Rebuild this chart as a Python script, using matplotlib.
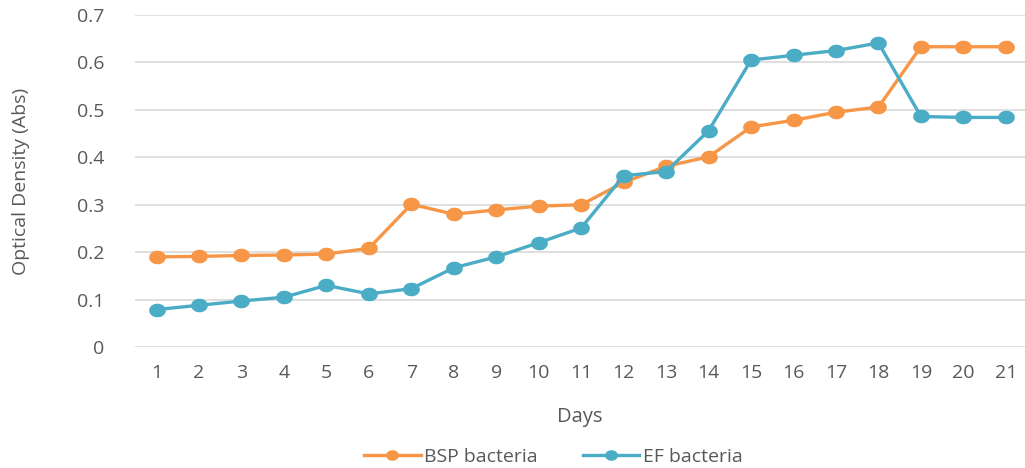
import numpy as np
import matplotlib
matplotlib.use('Agg')
import matplotlib.pyplot as plt
from matplotlib.path import Path

plt.rcParams['font.family'] = ['Open Sans', 'DejaVu Sans']

days = list(range(1, 22))
bsp = [0.190, 0.191, 0.193, 0.194, 0.196, 0.208, 0.301, 0.280, 0.289, 0.297,
       0.300, 0.347, 0.381, 0.401, 0.464, 0.478, 0.495, 0.506, 0.633, 0.633, 0.633]
ef = [0.079, 0.088, 0.097, 0.105, 0.130, 0.112, 0.123, 0.167, 0.190, 0.220,
      0.251, 0.361, 0.370, 0.456, 0.605, 0.615, 0.625, 0.641, 0.486, 0.484, 0.484]
y_ticks = [0, 0.1, 0.2, 0.3, 0.4, 0.5, 0.6, 0.7]

orange = '#F79646'
blue = '#4BACC6'
text_grey = '#595959'

# slightly wide oval marker
t = np.linspace(0, 2 * np.pi, 40)
oval = Path(np.column_stack([np.cos(t), 0.8 * np.sin(t)]))

fig = plt.figure(figsize=(10.25, 4.68), dpi=100)
ax = fig.add_axes([0.132, 0.2585, 0.868, 0.7095])

ax.plot(days, bsp, color=orange, lw=2.4, marker=oval, markersize=11,
        label='BSP bacteria', zorder=3)
ax.plot(days, ef, color=blue, lw=2.4, marker=oval, markersize=11,
        label='EF bacteria', zorder=3)

ax.set_xlim(0.5, 21.45)
ax.set_ylim(0, 0.7)
ax.set_xticks(days)
ax.set_yticks(y_ticks)
ax.set_yticklabels(['0' if v == 0 else f'{v:.1f}' for v in y_ticks])
ax.yaxis.grid(True, color='#D9D9D9', lw=1.2)
ax.set_axisbelow(True)
for s in ax.spines.values():
    s.set_visible(False)
ax.tick_params(length=0, labelsize=14, colors=text_grey, pad=12)
ax.tick_params(axis='y', pad=22)

ax.set_xlabel('Days', fontsize=14.5, color=text_grey, labelpad=18)
ax.set_ylabel('Optical Density (Abs)', fontsize=14, color=text_grey, labelpad=34)

ax.legend(loc='upper center', bbox_to_anchor=(0.47, -0.25), ncol=2, frameon=False,
          fontsize=14, labelcolor=text_grey, handlelength=2.9, columnspacing=2.3,
          handletextpad=0.2, markerscale=0.75)

fig.savefig('out.png', dpi=100)
